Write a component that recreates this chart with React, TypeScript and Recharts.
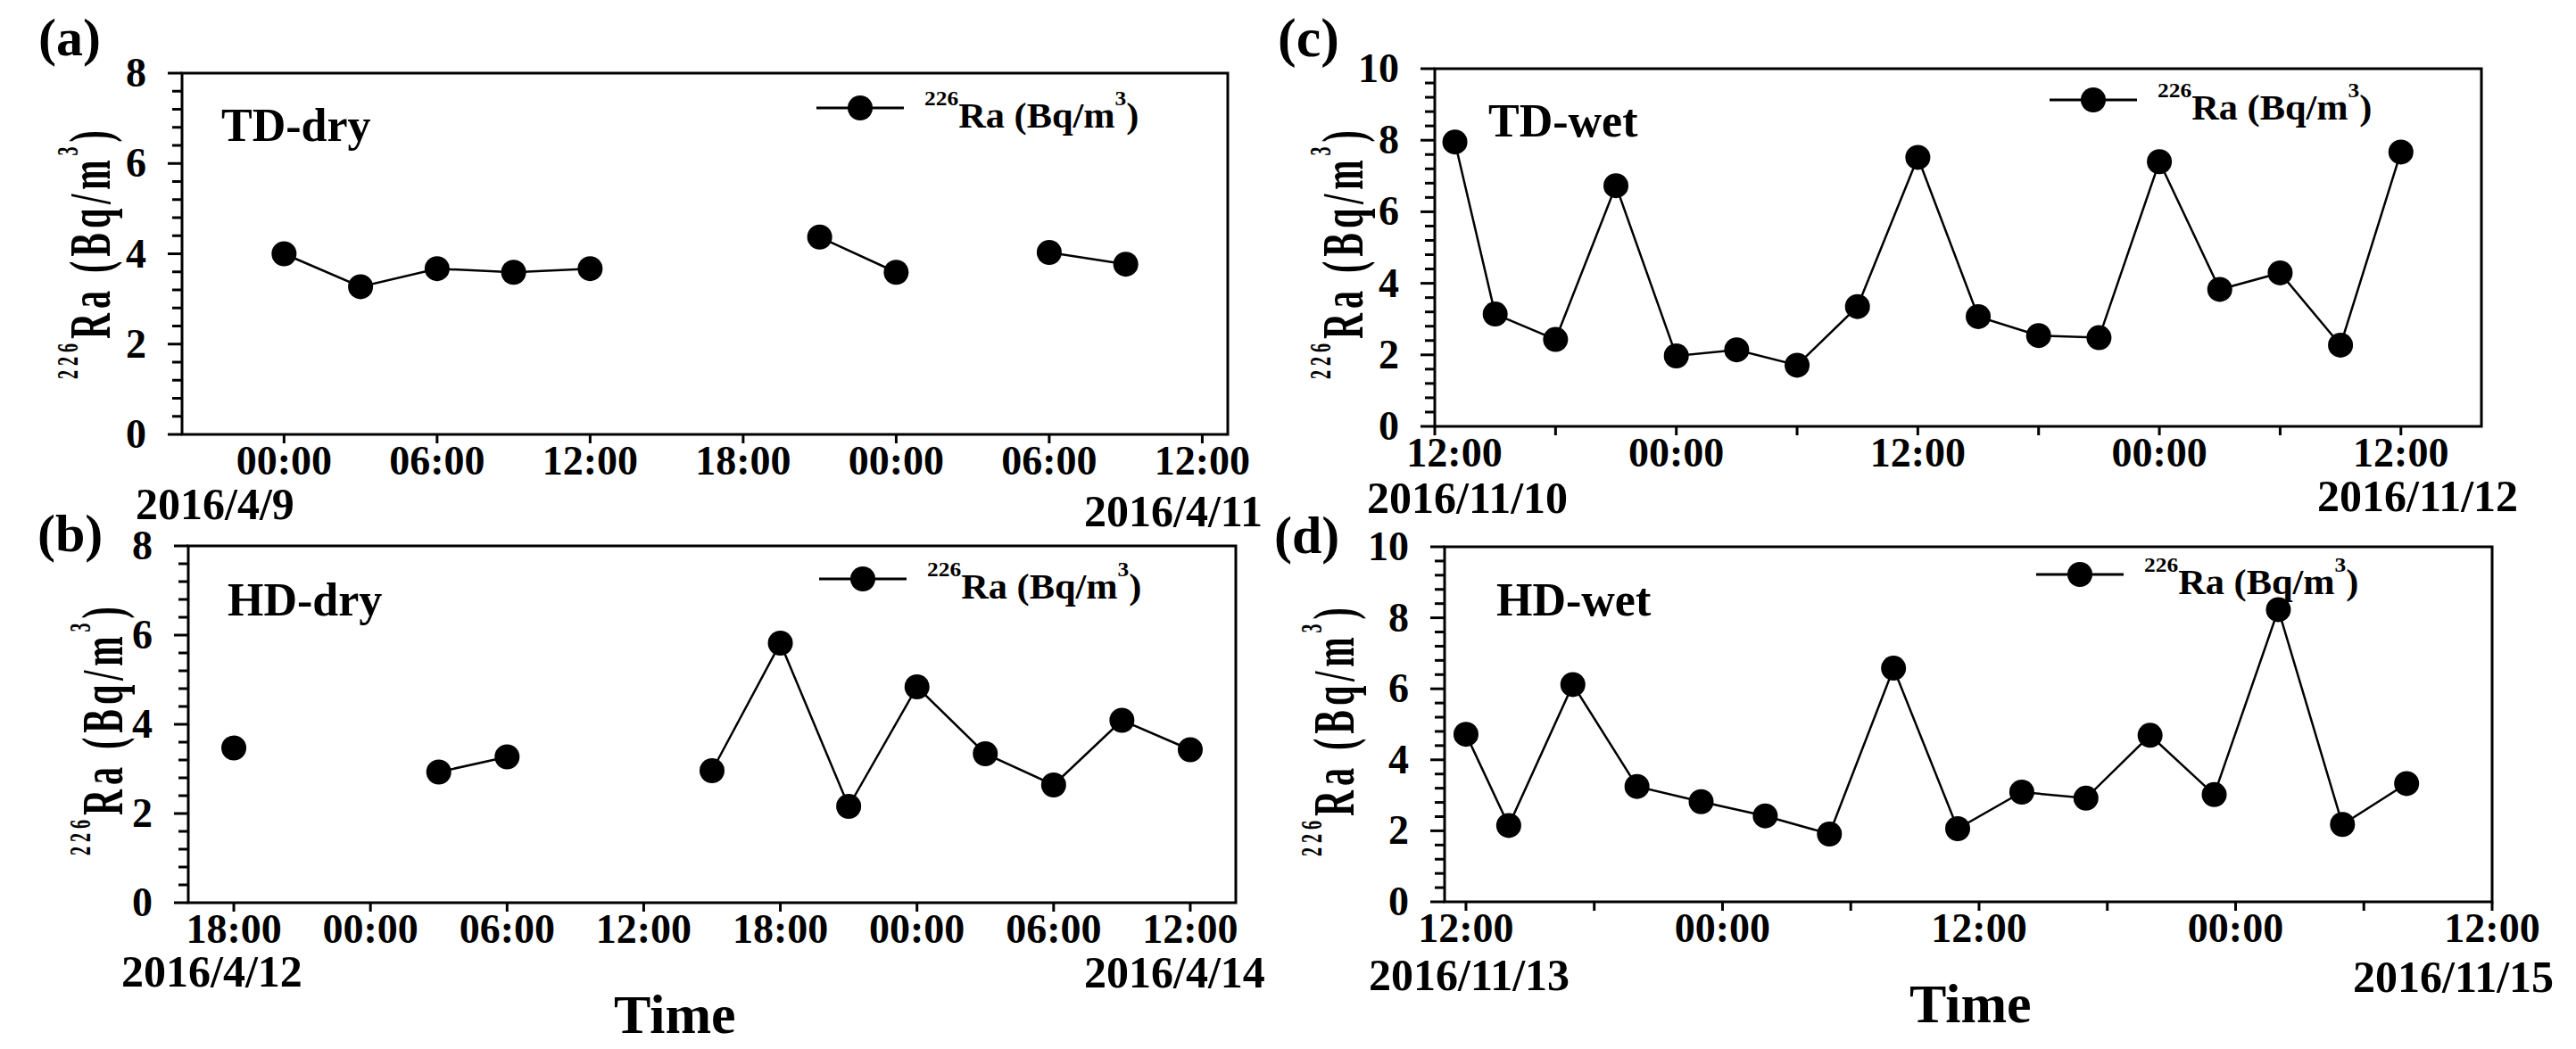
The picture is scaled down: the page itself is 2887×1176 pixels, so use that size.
import React from 'react';
import { LineChart, Line, XAxis, YAxis, ReferenceArea, Legend } from 'recharts';

const FONT = '"Liberation Serif", "Times New Roman", serif';

// (a) TD-dry, hours counted from 2016/4/9 00:00
const tdDryHours = [0, 3, 6, 9, 12, 15, 18, 21, 24, 27, 30, 33];
const tdDryRa = [4.0, 3.27, 3.67, 3.59, 3.67, null, null, 4.37, 3.59, null, 4.03, 3.77];

// (b) HD-dry, hours counted from 2016/4/12 18:00
const hdDryHours = [0, 3, 6, 9, 12, 15, 18, 21, 24, 27, 30, 33, 36, 39, 42];
const hdDryRa = [3.47, null, null, 2.93, 3.27, null, null, 2.96, 5.82, 2.16, 4.84, 3.34, 2.64, 4.09, 3.43];

// (c) TD-wet, hours counted from 2016/11/10 12:00
const tdWetHours = [1, 3, 6, 9, 12, 15, 18, 21, 24, 27, 30, 33, 36, 39, 42, 45, 48];
const tdWetRa = [7.95, 3.14, 2.43, 6.73, 1.97, 2.14, 1.71, 3.35, 7.52, 3.07, 2.54, 2.48, 7.4, 3.83, 4.29, 2.27, 7.67];

// (d) HD-wet, hours counted from 2016/11/13 12:00
const hdWetHours = [0, 2, 5, 8, 11, 14, 17, 20, 23, 26, 29, 32, 35, 38, 41, 44];
const hdWetRa = [4.72, 2.15, 6.12, 3.25, 2.82, 2.42, 1.91, 6.58, 2.06, 3.09, 2.92, 4.69, 3.02, 8.23, 2.18, 3.33];

const tdDryXTicks = [0, 6, 12, 18, 24, 30, 36];
const hdDryXTicks = [0, 6, 12, 18, 24, 30, 36, 42];
const wetXTicks = [0, 6, 12, 18, 24, 30, 36, 42, 48];

const yTicks8 = [0, 0.4, 0.8, 1.2, 1.6, 2, 2.4, 2.8, 3.2, 3.6, 4, 4.4, 4.8, 5.2, 5.6, 6, 6.4, 6.8, 7.2, 7.6, 8];
const yTicks10 = [0, 0.4, 0.8, 1.2, 1.6, 2, 2.4, 2.8, 3.2, 3.6, 4, 4.4, 4.8, 5.2, 5.6, 6, 6.4, 6.8, 7.2, 7.6, 8, 8.4, 8.8, 9.2, 9.6, 10];

const AXIS_X = 200;

function toRows(hours: number[], values: (number | null)[]) {
  return hours.map((h, i) => ({ h, ra: values[i] }));
}

const YTick = (props: any) => {
  const { y, payload } = props;
  const v = payload.value;
  const major = Math.abs(v - Math.round(v / 2) * 2) < 1e-6;
  return (
    <g>
      <line x1={AXIS_X - (major ? 16 : 11)} x2={AXIS_X} y1={y} y2={y} stroke="#000" strokeWidth={3} />
      {major && (
        <text x={AXIS_X - 40} y={y} dy={15} textAnchor="end" fontFamily={FONT} fontWeight="bold" fontSize={46} fill="#000">
          {Math.round(v)}
        </text>
      )}
    </g>
  );
};

const LegendItem = () => (
  <svg width={420} height={56} style={{ overflow: 'visible' }}>
    <line x1={0} x2={98} y1={28} y2={28} stroke="#000" strokeWidth={3} />
    <circle cx={49} cy={28} r={14} fill="#000" />
    <g transform="translate(121, 50) scale(1.06, 1)">
      <text x={0} y={0} fontFamily={FONT} fontWeight="bold" fill="#000">
        <tspan fontSize={24} dy={-25}>226</tspan>
        <tspan fontSize={40} dy={25}>Ra (Bq/m</tspan>
        <tspan fontSize={24} dy={-25}>3</tspan>
        <tspan fontSize={40} dy={25}>)</tspan>
      </text>
    </g>
  </svg>
);

type PanelProps = {
  frame: { l: number; t: number; r: number; b: number };
  domain: [number, number];
  xTicks: number[];
  startHour: number;
  labelStep: number;
  firstShift?: number;
  yMax: number;
  yTicks: number[];
  rows: { h: number; ra: number | null }[];
  legend: { x: number; y: number };
};

function Panel({ frame, domain, xTicks, startHour, labelStep, firstShift = 0, yMax, yTicks, rows, legend }: PanelProps) {
  const boxL = frame.l - 200;
  const boxT = frame.t - 80;
  const W = frame.r - frame.l + 290;
  const H = frame.b - frame.t + 150;
  const axisY = frame.b - frame.t + 80;

  const xTick = (props: any) => {
    const { x, payload } = props;
    const h = payload.value;
    if (h % labelStep !== 0) return <g />;
    const clock = (((h + startHour) % 24) + 24) % 24;
    const shift = h === domain[0] ? firstShift : 0;
    return (
      <text x={x + shift} y={axisY + 45} textAnchor="middle" fontFamily={FONT} fontWeight="bold" fontSize={46} fill="#000">
        {`${String(clock).padStart(2, '0')}:00`}
      </text>
    );
  };

  return (
    <div style={{ position: 'absolute', left: boxL, top: boxT }}>
      <LineChart width={W} height={H} data={rows} margin={{ top: 80, right: 90, left: 100, bottom: 20 }}>
        <XAxis
          type="number"
          dataKey="h"
          domain={domain}
          ticks={xTicks}
          interval={0}
          allowDataOverflow
          axisLine={false}
          tickLine={{ stroke: '#000', strokeWidth: 3 }}
          tickSize={10}
          height={50}
          tick={xTick}
        />
        <YAxis
          type="number"
          domain={[0, yMax]}
          ticks={yTicks}
          interval={0}
          allowDataOverflow
          axisLine={false}
          tickLine={false}
          width={100}
          tick={(p: any) => <YTick {...p} />}
        />
        <ReferenceArea
          x1={domain[0]}
          x2={domain[1]}
          y1={0}
          y2={yMax}
          fill="none"
          fillOpacity={0}
          stroke="#000"
          strokeWidth={3}
          ifOverflow="visible"
        />
        <Legend
          layout="horizontal"
          verticalAlign="middle"
          align="center"
          wrapperStyle={{ left: legend.x - boxL, top: legend.y - 28 - boxT, width: 420, height: 56 }}
          content={() => <LegendItem />}
        />
        <Line
          type="linear"
          dataKey="ra"
          name="226Ra (Bq/m3)"
          stroke="#000"
          strokeWidth={2.5}
          dot={{ r: 14, fill: '#000', stroke: '#000', strokeWidth: 0 }}
          activeDot={false}
          connectNulls={false}
          isAnimationActive={false}
        />
      </LineChart>
    </div>
  );
}

const T = (p: { x: number; y: number; s: number; children: React.ReactNode }) => (
  <text x={p.x} y={p.y} fontSize={p.s} fontFamily={FONT} fontWeight="bold" fill="#000">
    {p.children}
  </text>
);

const YLabel = ({ x, y }: { x: number; y: number }) => (
  <g transform={`translate(${x}, ${y}) rotate(-90) scale(1, 1.64)`}>
    <text x={0} y={0} textAnchor="middle" fontFamily={FONT} fontWeight="bold" fill="#000" letterSpacing={5}>
      <tspan fontSize={20} dy={-22}>226</tspan>
      <tspan fontSize={40} dy={22}>Ra (Bq/m</tspan>
      <tspan fontSize={20} dy={-22}>3</tspan>
      <tspan fontSize={40} dy={22}>)</tspan>
    </text>
  </g>
);

export default function App() {
  return (
    <div style={{ position: 'relative', width: 2887, height: 1176, background: '#fff', overflow: 'hidden' }}>
      <style>{'body{margin:0;overflow:hidden}'}</style>
      <Panel
        frame={{ l: 204, t: 82, r: 1376, b: 487 }}
        domain={[-4, 37]}
        xTicks={tdDryXTicks}
        startHour={0}
        labelStep={6}
        yMax={8}
        yTicks={yTicks8}
        rows={toRows(tdDryHours, tdDryRa)}
        legend={{ x: 915, y: 121 }}
      />
      <Panel
        frame={{ l: 211, t: 612, r: 1385, b: 1012 }}
        domain={[-2, 44]}
        xTicks={hdDryXTicks}
        startHour={18}
        labelStep={6}
        yMax={8}
        yTicks={yTicks8}
        rows={toRows(hdDryHours, hdDryRa)}
        legend={{ x: 918, y: 649 }}
      />
      <Panel
        frame={{ l: 1608, t: 77, r: 2781, b: 478 }}
        domain={[0, 52]}
        xTicks={wetXTicks}
        startHour={12}
        labelStep={12}
        firstShift={22}
        yMax={10}
        yTicks={yTicks10}
        rows={toRows(tdWetHours, tdWetRa)}
        legend={{ x: 2297, y: 112 }}
      />
      <Panel
        frame={{ l: 1619, t: 613, r: 2793, b: 1011 }}
        domain={[-1, 48]}
        xTicks={wetXTicks}
        startHour={12}
        labelStep={12}
        yMax={10}
        yTicks={yTicks10}
        rows={toRows(hdWetHours, hdWetRa)}
        legend={{ x: 2282, y: 644 }}
      />
      <svg
        width={2887}
        height={1176}
        style={{ position: 'absolute', left: 0, top: 0, pointerEvents: 'none' }}
      >
        <T x={43} y={62} s={60}>(a)</T>
        <T x={42} y={618} s={60}>(b)</T>
        <T x={1432} y={63} s={62}>(c)</T>
        <T x={1428} y={620} s={60}>(d)</T>

        <T x={248} y={158} s={52}>TD-dry</T>
        <T x={255} y={690} s={52}>HD-dry</T>
        <T x={1668} y={153} s={52}>TD-wet</T>
        <T x={1677} y={690} s={52}>HD-wet</T>

        <T x={152} y={582} s={50}>2016/4/9</T>
        <T x={1215} y={590} s={50}>2016/4/11</T>
        <T x={136} y={1106} s={50}>2016/4/12</T>
        <T x={1215} y={1107} s={50}>2016/4/14</T>
        <T x={1532} y={575} s={50}>2016/11/10</T>
        <T x={2597} y={573} s={50}>2016/11/12</T>
        <T x={1534} y={1110} s={50}>2016/11/13</T>
        <T x={2637} y={1112} s={50}>2016/11/15</T>

        <T x={688} y={1158} s={62}>Time</T>
        <T x={2140} y={1146} s={62}>Time</T>

        <YLabel x={123} y={283} />
        <YLabel x={137} y={817} />
        <YLabel x={1527} y={283} />
        <YLabel x={1517} y={818} />
      </svg>
    </div>
  );
}
